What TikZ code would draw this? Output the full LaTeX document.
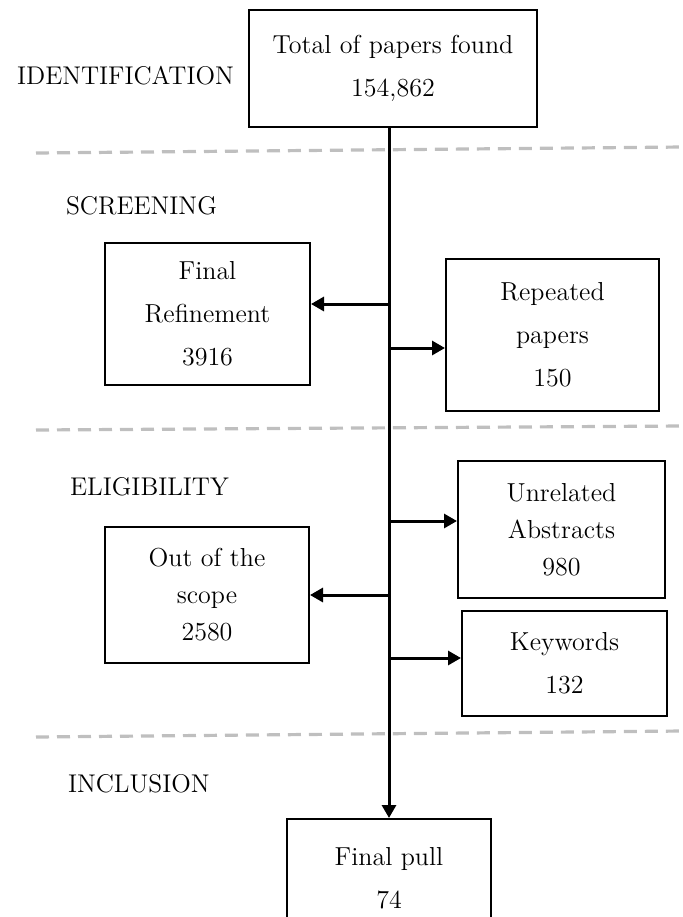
\documentclass[tikz,border=0pt]{standalone}
\usetikzlibrary{arrows.meta}
\begin{document}
\begin{tikzpicture}[x=0.5pt,y=-0.5pt,
  box/.style={draw=black,line width=1pt,align=center,inner sep=0pt,font=\fontsize{13}{21.5}\selectfont},
  tightbox/.style={box,font=\fontsize{13}{18.5}\selectfont},
  stage/.style={anchor=west,font=\fontsize{12.8}{14}\selectfont},
  divider/.style={draw=black!25,line width=1.6pt,dash pattern=on 6.5pt off 4pt},
  flow/.style={line width=1.5pt,-{Triangle[length=6.5pt,width=7pt]}}]
\useasboundingbox (0,0) rectangle (683,917);
\clip (0,0) rectangle (683,917);
\draw[divider] (36,153) -- (683,147);
\draw[divider] (36,430) -- (683,426);
\draw[divider] (36,737) -- (683,731);
\node[stage] (ident) at (10,76) {IDENTIFICATION};
\node[stage] (screen) at (59,206) {SCREENING};
\node[stage] (elig) at (63,487) {ELIGIBILITY};
\node[stage] (incl) at (61,784) {INCLUSION};
\node[box,minimum width=144pt,minimum height=58.5pt] (total) at (393,68.5) {Total of papers found\\154,862};
\node[box,minimum width=102.5pt,minimum height=71pt] (refine) at (207.5,314) {Final\\Refinement\\3916};
\node[box,minimum width=106.5pt,minimum height=76pt] (repeat) at (552.5,335) {Repeated\\papers\\150};
\node[tightbox,minimum width=103.5pt,minimum height=68.5pt] (unrel) at (561.5,529.5) {Unrelated\\Abstracts\\980};
\node[tightbox,minimum width=102pt,minimum height=68pt] (scope) at (207,595) {Out of the\\scope\\2580};
\node[box,minimum width=102.5pt,minimum height=52.5pt] (keyw) at (564.5,663.5) {Keywords\\132};
\node[box,minimum width=102pt,minimum height=59pt] (final) at (389,878) {Final pull\\74};
\coordinate (trunk) at (389,0);
\draw[flow] (trunk |- total.south) -- (trunk |- final.north);
\coordinate (b1) at (389,304);
\coordinate (b2) at (389,348);
\coordinate (b3) at (389,521);
\coordinate (b4) at (389,595);
\coordinate (b5) at (389,658);
\draw[flow] (b1) -- (b1 -| refine.east);
\draw[flow] (b2) -- (b2 -| repeat.west);
\draw[flow] (b3) -- (b3 -| unrel.west);
\draw[flow] (b4) -- (b4 -| scope.east);
\draw[flow] (b5) -- (b5 -| keyw.west);
\end{tikzpicture}
\end{document}
